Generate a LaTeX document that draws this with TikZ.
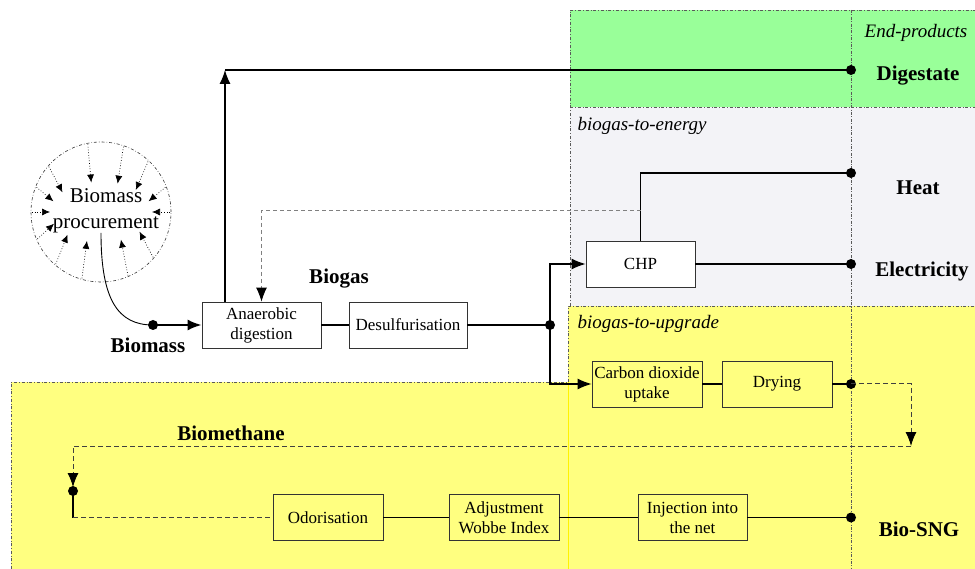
\documentclass[tikz,border=0pt]{standalone}
\usepackage{fontspec}
\setmainfont{Liberation Serif}
\usetikzlibrary{arrows.meta}
\usepackage{xcolor}

\definecolor{digestgreen}{RGB}{153,255,153}
\definecolor{energygray}{RGB}{243,243,247}
\definecolor{upgradeyellow}{RGB}{255,255,128}
\definecolor{borderline}{RGB}{90,90,90}

\tikzset{
  procbox/.style={draw=black!80, line width=0.8pt, minimum width=110pt, minimum height=46pt,
    inner sep=1pt, align=center, font=\fontsize{17}{20}\selectfont},
  flowlabel/.style={font=\fontsize{21}{24}\selectfont\bfseries},
  zonelabel/.style={font=\fontsize{19}{22}\selectfont\itshape, anchor=west},
  zoneline/.style={borderline, line width=0.6pt, dash dot},
  flow/.style={line width=1.2pt},
  dashflow/.style={black!75, line width=1pt, dash pattern=on 5pt off 3pt},
  arrowtip/.style={-{Latex[length=14pt,width=11pt,black]}},
}

\begin{document}
\begin{tikzpicture}[x=1pt,y=-1pt]
\useasboundingbox (0,0) rectangle (975,569);

%%%%%%%%%%%%    zones   %%%%%%%%%%%%
\fill[upgradeyellow] (11,382) rectangle (975,569);
\draw[zoneline] (11,569)--(11,382)--(975,382);
\fill[upgradeyellow] (568,306) rectangle (975,569);
\draw[yellow, line width=0.6pt] (568,382)--(568,569);
\fill[energygray] (570,107) rectangle (975,306);
\fill[digestgreen] (570,10) rectangle (975,107);
\draw[zoneline] (568,382)--(568,306)--(975,306);
\draw[zoneline] (570,306)--(570,10)--(975,10);
\draw[zoneline] (570,107)--(975,107);
\draw[zoneline, dash pattern=on 3pt off 1.5pt on 0.8pt off 1.5pt] (851,10)--(851,569);

%%%%%%%%%%%%    process boxes   %%%%%%%%%%%%
\node[circle, draw=black!80, line width=0.6pt, dash dot, minimum size=140pt] (proc) at (101,212) {};
\node[align=center, inner sep=0pt, font=\fontsize{21}{26}\selectfont] (procText) at (106,211) {Biomass\\procurement};
\node[procbox, fill=white, minimum width=119pt] (ad) at (261.5,325) {Anaerobic\\digestion};
\node[procbox, fill=white, minimum width=118pt] (desulf) at (408,325) {Desulfurisation};
\node[procbox, fill=white, minimum width=109pt] (chp) at (640.5,264) {CHP};
\node[procbox] (co2) at (647,384) {Carbon dioxide\\uptake};
\node[procbox] (dry) at (777,384) {Drying};
\node[procbox] (odor) at (328,517.5) {Odorisation};
\node[procbox] (adj) at (504,517.5) {Adjustment\\Wobbe Index};
\node[procbox, minimum width=109pt] (inj) at (692.5,517.5) {Injection into\\the net};

% procurement arrows
\foreach \a in {101,71,47,21,0,-41,-67,-106,-131,-157,180,159,139}
  \draw[dotted, line width=0.7pt, -{Latex[length=8pt,width=7pt]}]
    ([shift={(\a:69pt)}]proc.center) -- ([shift={({cos(\a)*51pt},{sin(\a)*30pt})}]proc.center);

%%%%%%%%%%%%    junctions   %%%%%%%%%%%%
\coordinate (procout) at (101,233);
\coordinate (dBiomass) at (153,325);
\coordinate (dSplit) at (550,325);
\coordinate (dDig) at (851,70);
\coordinate (dHeat) at (851,173);
\coordinate (dElec) at (851,264);
\coordinate (dDry) at (851,384);
\coordinate (dSNG) at (851,517.5);
\coordinate (digUp) at (225,70);
\coordinate (fb) at (640.5,210);
\coordinate (methR) at (911,446);
\coordinate (dMeth) at (73,491);
\coordinate (odL) at (73,517.5);

\foreach \d in {dBiomass,dSplit,dDig,dHeat,dElec,dDry,dSNG,dMeth}
  \fill (\d) circle (5pt);

%%%%%%%%%%%%    connectors   %%%%%%%%%%%%
\draw[line width=0.9pt] (procout) .. controls (101,300) and (118,325) .. (dBiomass);
\draw[line width=2pt, arrowtip] (dBiomass) -- (ad);
\draw[flow] (ad) -- (desulf);
\draw[flow] (desulf) -- (dSplit);
\draw[flow, arrowtip] (dSplit) |- (chp);
\draw[flow, arrowtip] (dSplit) |- (co2);

%digestate
\draw[flow, arrowtip] (ad.north -| digUp) -- (digUp);
\draw[flow] (digUp) -- (dDig);

%energy
\draw[flow] (chp.north) |- (dHeat);
\draw[flow] (chp) -- (dElec);
\draw[gray, line width=0.9pt, dash pattern=on 4pt off 3pt, arrowtip] (fb) -| (ad.north);

%upgrade
\draw[flow] (co2) -- (dry);
\draw[flow] (dry) -- (dDry);
\draw[dashflow, arrowtip] (dDry) -| (methR);
\draw[dashflow, arrowtip, shorten >=4pt] (methR) -| (dMeth);
\draw[flow] (dMeth) -- (odL);
\draw[dashflow] (odL) -- (odor);
\draw[flow] (odor) -- (adj);
\draw[flow] (adj) -- (inj);
\draw[flow] (inj) -- (dSNG);

% labeling
{
\node[flowlabel] (lBiomass) at (148,345) {Biomass};
\node[flowlabel] (lBiogas) at (339,279) {Biogas};
\node[flowlabel] (lMeth) at (231,433) {Biomethane};
\node[flowlabel] (lDig) at (918,76) {Digestate};
\node[flowlabel] (lHeat) at (918,188) {Heat};
\node[flowlabel] (lElec) at (922,271) {Electricity};
\node[flowlabel] (lSNG) at (919,529) {Bio-SNG};

\node[zonelabel, anchor=center] (lEnd) at (916,33) {End-products};
\node[zonelabel] (lEnergy) at (574,126) {biogas-to-energy};
\node[zonelabel] (lUpgrade) at (574,324) {biogas-to-upgrade};
}
\end{tikzpicture}
\end{document}
